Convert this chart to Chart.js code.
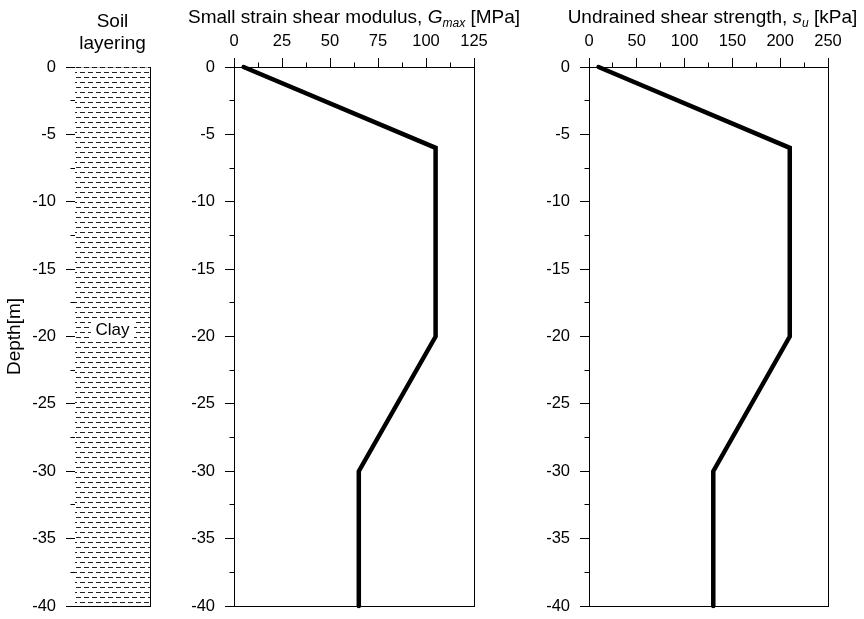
<!DOCTYPE html>
<html>
<head>
<meta charset="utf-8">
<script src="https://cdn.jsdelivr.net/npm/chart.js@4.4.1/dist/chart.umd.min.js"></script>
<style>
html,body{margin:0;padding:0;background:#fff;}
#wrap{position:relative;width:864px;height:619px;overflow:hidden;background:#fff;}
#wrap canvas{position:absolute;left:0;top:0;}
</style>
</head>
<body>
<div id="wrap">
<canvas id="c1" width="864" height="619" style="width:864px;height:619px"></canvas>
<canvas id="c2" width="864" height="619" style="width:864px;height:619px"></canvas>
<canvas id="c3" width="864" height="619" style="width:864px;height:619px"></canvas>
</div>
<script>
// ---------------- DATA ----------------
const depthPts = [0, -6, -20, -30, -40];
const gmaxVals = [5, 105, 105, 65, 65];
const suVals = [10, 210, 210, 130, 130];
const depthTicks = [0, -5, -10, -15, -20, -25, -30, -35, -40];
const gmaxTicks = [0, 25, 50, 75, 100, 125];
const suTicks = [0, 50, 100, 150, 200, 250];
const soilNames = ['Clay'];
const soilTop = [0];
const soilBottom = [-40];
const soilLabelDepth = [-19.5];
const titleSoil = ['Soil', 'layering'];
const titleG = [['Small strain shear modulus, ', 'n'], ['G', 'i'], ['max', 's'], [' [MPa]', 'n']];
const titleSu = [['Undrained shear strength, ', 'n'], ['s', 'i'], ['u', 's'], [' [kPa]', 'n']];
const yAxisTitle = 'Depth[m]';

// ---------------- LAYOUT / STYLE ----------------
const FONT = "'Liberation Sans', Arial, Helvetica, sans-serif";
const W = 864, H = 619, TOP = 67, BOTTOM = 606, YW = 75;
const PANELS = [{L: 75, R: 150, dx: 0}, {L: 234, R: 474, dx: 0}, {L: 589, R: 828, dx: 4}];
const TICK_FONT = {family: FONT, size: 16.5};
const MINOR_DASH = [0, 4.5, 5, 100];

Chart.defaults.font.family = FONT;
Chart.defaults.color = '#000';
Chart.defaults.animation = false;

function isMajor(v, list) { return list.some(t => Math.abs(t - v) < 1e-6); }

function fixV(s) { s.width = YW; s.paddingTop = 0; s.paddingBottom = 0; }
function fixH(s) { s.height = TOP; s.paddingLeft = 0; s.paddingRight = 0; }

function yScaleOpts(withTitle) {
  return {
    type: 'linear', position: 'left',
    min: Math.min(...soilBottom), max: Math.max(...soilTop),
    ticks: {
      stepSize: 2.5, autoSkip: false, padding: 10, color: '#000', font: TICK_FONT,
      callback: v => isMajor(v, depthTicks) ? String(v) : ''
    },
    grid: {
      drawOnChartArea: false, tickLength: 9, color: '#000', tickColor: '#000', tickWidth: 1,
      tickBorderDash: ctx => (ctx.tick && isMajor(ctx.tick.value, depthTicks)) ? [] : MINOR_DASH
    },
    border: {display: true, color: '#000', width: 1},
    title: withTitle ? {display: true, text: yAxisTitle, color: '#000',
      font: {family: FONT, size: 19}, padding: {top: 3, bottom: 0}} : {display: false},
    afterFit: fixV
  };
}

function xTopOpts(max, step, majors) {
  return {
    type: 'linear', position: 'top', min: 0, max: max,
    ticks: {
      stepSize: step, autoSkip: false, maxRotation: 0, padding: 7, color: '#000', font: TICK_FONT,
      callback: v => isMajor(v, majors) ? String(v) : ''
    },
    grid: {
      drawOnChartArea: false, tickLength: 9, color: '#000', tickColor: '#000', tickWidth: 1,
      tickBorderDash: ctx => (ctx.tick && isMajor(ctx.tick.value, majors)) ? [] : MINOR_DASH
    },
    border: {display: true, color: '#000', width: 1},
    afterFit: fixH
  };
}

// frame + titles + labels plugin
const panelPlugin = {
  id: 'panelDeco',
  afterDraw(chart, args, opts) {
    const ctx = chart.ctx, a = chart.chartArea;
    ctx.save();
    ctx.strokeStyle = '#000';
    ctx.lineWidth = 1;
    ctx.beginPath();
    ctx.moveTo(a.right + 0.5, a.top);
    ctx.lineTo(a.right + 0.5, a.bottom + 1);
    ctx.moveTo(a.left, a.bottom + 0.5);
    ctx.lineTo(a.right + 1, a.bottom + 0.5);
    ctx.stroke();
    const cx = (a.left + a.right) / 2 + (opts.dx || 0);
    ctx.fillStyle = '#000';
    ctx.textBaseline = 'alphabetic';
    if (opts.lines) {
      ctx.textAlign = 'center';
      ctx.font = '19px ' + FONT;
      opts.lines.forEach((t, i) => ctx.fillText(t, cx, opts.baselines[i]));
    }
    if (opts.rich) {
      const fontFor = st => st === 'n' ? '19px ' + FONT : st === 'i' ? 'italic 19px ' + FONT : 'italic 12px ' + FONT;
      let total = 0;
      opts.rich.forEach(([t, st]) => { ctx.font = fontFor(st); total += ctx.measureText(t).width; });
      let x = cx - total / 2;
      ctx.textAlign = 'left';
      opts.rich.forEach(([t, st]) => {
        ctx.font = fontFor(st);
        ctx.fillText(t, x, opts.baseline + (st === 's' ? 4 : 0));
        x += ctx.measureText(t).width;
      });
    }
    if (opts.soilLabels) {
      ctx.font = '17px ' + FONT;
      ctx.textAlign = 'center';
      ctx.textBaseline = 'middle';
      soilNames.forEach((name, i) => {
        const x = chart.scales.x.getPixelForValue(i);
        const y = chart.scales.y.getPixelForValue(soilLabelDepth[i]);
        const w = ctx.measureText(name).width + 9;
        ctx.fillStyle = '#fff';
        ctx.fillRect(x - w / 2, y - 10.5, w, 21);
        ctx.fillStyle = '#000';
        ctx.fillText(name, x, y + 1);
      });
    }
    ctx.restore();
  }
};

// soil hatch pattern (staggered dashed lines)
function makePattern() {
  const c = document.createElement('canvas');
  c.width = 8; c.height = 10;
  const g = c.getContext('2d');
  g.fillStyle = '#fff';
  g.fillRect(0, 0, 8, 10);
  g.strokeStyle = '#222';
  g.lineWidth = 1;
  g.beginPath();
  g.moveTo(0, 2.5); g.lineTo(5, 2.5);
  g.moveTo(4, 7.5); g.lineTo(8, 7.5);
  g.moveTo(0, 7.5); g.lineTo(1, 7.5);
  g.stroke();
  return g.createPattern(c, 'repeat');
}

function padFor(p) { return {left: p.L - YW, right: W - p.R, top: 0, bottom: H - BOTTOM}; }

// ---------------- PANEL 1: soil layering ----------------
new Chart(document.getElementById('c1'), {
  type: 'bar',
  data: {
    labels: soilNames,
    datasets: [{
      data: soilNames.map((n, i) => [soilBottom[i], soilTop[i]]),
      backgroundColor: makePattern(),
      borderWidth: 0,
      barPercentage: 1, categoryPercentage: 1
    }]
  },
  options: {
    responsive: false, animation: false,
    layout: {padding: padFor(PANELS[0])},
    plugins: {legend: {display: false}, tooltip: {enabled: false},
      panelDeco: {lines: titleSoil, baselines: [27, 49], soilLabels: true}},
    scales: {
      x: {type: 'category', position: 'top',
        ticks: {display: false}, grid: {display: true, drawOnChartArea: false, drawTicks: false},
        border: {display: true, color: '#000', width: 1},
        afterFit: fixH},
      y: yScaleOpts(true)
    }
  },
  plugins: [panelPlugin]
});

// ---------------- PANELS 2 & 3: profiles ----------------
function profileChart(id, panel, vals, max, step, majors, rich) {
  new Chart(document.getElementById(id), {
    type: 'scatter',
    data: {
      datasets: [{
        data: depthPts.map((d, i) => ({x: vals[i], y: d})),
        showLine: true, borderColor: '#000', backgroundColor: '#000',
        borderWidth: 4.5, pointRadius: 0, tension: 0,
        borderCapStyle: 'round', borderJoinStyle: 'miter', clip: false
      }]
    },
    options: {
      responsive: false, animation: false,
      layout: {padding: padFor(panel)},
      plugins: {legend: {display: false}, tooltip: {enabled: false},
        panelDeco: {rich: rich, baseline: 23, dx: panel.dx}},
      scales: {
        x: xTopOpts(max, step, majors),
        y: yScaleOpts(false)
      }
    },
    plugins: [panelPlugin]
  });
}
profileChart('c2', PANELS[1], gmaxVals, gmaxTicks[gmaxTicks.length - 1], 12.5, gmaxTicks, titleG);
profileChart('c3', PANELS[2], suVals, suTicks[suTicks.length - 1], 25, suTicks, titleSu);
</script>
</body>
</html>
